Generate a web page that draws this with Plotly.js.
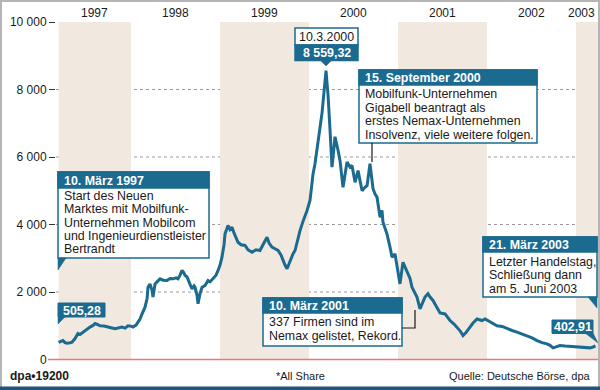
<!DOCTYPE html>
<html><head><meta charset="utf-8">
<script src="https://cdn.plot.ly/plotly-3.0.1.min.js"></script>
<style>html,body{margin:0;padding:0;background:#fff}</style>
</head><body><div id="chart" style="width:600px;height:390px"></div>
<script>
// ---- data (decimal years, index points) ----
const dates = [
1997.186,1997.213,1997.236,1997.258,1997.281,1997.315,1997.337,1997.371,1997.404,1997.427,1997.461,1997.494,1997.539,1997.573,1997.596,1997.629,1997.652,1997.697,1997.730,1997.775,1997.820,1997.854,1997.899,1997.933,1997.966,
1998.000,1998.022,1998.056,1998.079,1998.101,1998.124,1998.157,1998.180,1998.191,1998.213,1998.236,1998.247,1998.270,1998.292,1998.326,1998.360,1998.404,1998.438,1998.472,1998.506,1998.528,1998.551,1998.573,1998.596,1998.607,1998.629,1998.640,1998.663,1998.685,1998.708,1998.719,1998.742,1998.753,1998.775,1998.798,1998.831,1998.865,1998.888,1998.921,1998.955,1998.978,
1999.000,1999.022,1999.045,1999.056,1999.079,1999.090,1999.112,1999.135,1999.157,1999.169,1999.191,1999.202,1999.236,1999.281,1999.315,1999.360,1999.404,1999.449,1999.483,1999.528,1999.551,1999.584,1999.618,1999.652,1999.685,1999.708,1999.730,1999.753,1999.787,1999.820,1999.843,1999.876,1999.899,1999.933,1999.978,
2000.011,2000.045,2000.067,2000.090,2000.112,2000.124,2000.146,2000.157,2000.180,2000.191,2000.202,2000.213,2000.236,2000.258,2000.270,2000.292,2000.326,2000.348,2000.382,2000.404,2000.427,2000.461,2000.483,2000.517,2000.551,2000.573,2000.596,2000.629,2000.652,2000.685,2000.719,2000.742,2000.764,2000.798,2000.820,2000.831,2000.854,2000.876,2000.910,2000.933,2000.966,
2001.000,2001.022,2001.056,2001.079,2001.112,2001.135,2001.157,2001.191,2001.213,2001.247,2001.281,2001.303,2001.337,2001.360,2001.393,2001.427,2001.472,2001.528,2001.584,2001.629,2001.663,2001.697,2001.730,2001.764,2001.809,2001.843,2001.888,2001.921,2001.944,2001.978,
2002.011,2002.056,2002.112,2002.169,2002.225,2002.281,2002.337,2002.393,2002.449,2002.506,2002.562,2002.618,2002.674,2002.708,2002.742,2002.775,2002.820,2002.876,2002.933,2002.989,
2003.045,2003.101,2003.157,2003.191,2003.219];
const values = [
505,540,560,500,485,495,510,620,770,740,810,860,960,1010,1065,1030,1000,990,960,940,910,940,960,930,1000,
990,960,1020,1100,1200,1350,1550,1800,2140,2240,2050,1850,2240,2300,2390,2350,2340,2400,2390,2420,2390,2500,2640,2560,2490,2450,2390,2250,2090,2180,2140,1900,1650,1950,2140,2190,2340,2300,2390,2500,2640,
2800,3030,3400,3720,3900,3970,3850,3920,3750,3670,3500,3475,3400,3380,3250,3180,3250,3230,3400,3620,3450,3330,3280,3230,3100,2930,2800,2690,2930,3130,3230,3620,3820,4100,4415,
4710,5500,5800,6190,6600,6880,7300,7670,8200,8559,8200,7870,6800,5700,6000,6600,6200,5900,5100,5500,5850,5700,5750,5250,5600,5300,5000,5100,5150,5800,5060,4900,4810,4215,4415,4070,3900,3720,3330,3030,3130,
2640,2240,2880,2750,2540,2400,2140,1950,1850,1500,1750,1850,1950,1850,1750,1600,1380,1350,1155,1050,960,850,710,800,960,1080,1200,1180,1155,1200,
1150,1100,1000,980,910,860,810,760,710,640,560,500,465,420,345,380,415,400,385,380,
365,360,345,370,403];
const yearLabels = [1997,1998,1999,2000,2001,2002,2003];
const shadedYears = [1997,1999,2001,2003];
const tickValues = [0,2000,4000,6000,8000,10000];
const tickLabels = ['0','2 000','4 000','6 000','8 000','10 000'];

// ---- styling ----
const W=600,H=390;
const FONT='Liberation Sans, Arial, Helvetica, sans-serif';
const TEAL='#1b6a90', BEIGE='#f1e9df', DARK='#1a1a1a';
const X_MIN=1997.157, X_MAX=2003.247;
const Y_TOP_PX=22, Y_ZERO_PX=359.5;
const shapes=[], annotations=[];
const px=x=>x/W, py=y=>1-y/H;

// year bands
shadedYears.forEach(yr=>{
  shapes.push({type:'rect',xref:'x',yref:'y',x0:Math.max(yr,dates[0]),x1:Math.min(yr+1,X_MAX),y0:0,y1:10000,
    fillcolor:BEIGE,line:{width:0},layer:'below'});
});
// dotted gridlines
tickValues.filter(v=>v>0&&v<10000).forEach(v=>{
  shapes.push({type:'line',xref:'paper',yref:'y',x0:px(56),x1:px(598),y0:v,y1:v,
    line:{color:'#9a9a9a',width:1,dash:'dot'},layer:'below'});
});
// zero line (paper ref so it is not clipped at the plot edge)
shapes.push({type:'line',xref:'paper',yref:'paper',x0:px(48),x1:px(598),y0:py(Y_ZERO_PX),y1:py(Y_ZERO_PX),
  line:{color:'#ef7483',width:1.6},layer:'above'});

// year labels (centred on visible part of each year)
yearLabels.forEach((yr,i)=>{
  const a=Math.max(yr,dates[0]);
  const b=(i===yearLabels.length-1)?Math.min(yr+1,dates[dates.length-1])-0.09:Math.min(yr+1,dates[dates.length-1]);
  annotations.push({xref:'x',yref:'paper',x:(a+b)/2,y:py(13),text:String(yr),showarrow:false,
    xanchor:'center',yanchor:'middle',font:{family:FONT,size:12,color:DARK}});
});

function rect(x0,y0,x1,y1,fill,lc,lw){
  shapes.push({type:'rect',xref:'paper',yref:'paper',x0:px(x0),x1:px(x1),y0:py(y1),y1:py(y0),
    fillcolor:fill,line:{color:lc||fill,width:lw||0},layer:'above'});
}
function tri(pts,fill){
  const d=pts.map((p,i)=>(i?'L':'M')+px(p[0])+','+py(p[1])).join(' ')+' Z';
  shapes.push({type:'path',xref:'paper',yref:'paper',path:d,fillcolor:fill,line:{color:fill,width:0.5},layer:'above'});
}
function seg(pts,color){
  const d=pts.map((p,i)=>(i?'L':'M')+px(p[0])+','+py(p[1])).join(' ');
  shapes.push({type:'path',xref:'paper',yref:'paper',path:d,line:{color:color,width:1.2},layer:'above'});
}
function txt(x,y,t,o){
  o=o||{};
  annotations.push({xref:'paper',yref:'paper',x:px(x),y:py(y),text:t,showarrow:false,
    xanchor:o.anchor||'left',yanchor:'middle',
    font:{family:o.family||FONT,size:o.size||12.4,color:o.color||DARK}});
}
function box(x0,y0,x1,yh,y1,header,lines,lineYs,tx){
  rect(x0,y0,x1,y1,'#ffffff',TEAL,1.5);
  rect(x0,y0,x1,yh,TEAL,TEAL,1.5);
  txt(tx,(y0+yh)/2+0.5,'<b>'+header+'</b>',{color:'#fff'});
  lines.forEach((l,i)=>txt(tx,lineYs[i],l));
}

// Box: 10. März 1997
box(58,172,209,188,258,'10. März 1997',
  ['Start des Neuen','Marktes mit Mobilfunk-','Unternehmen Mobilcom','und Ingenieurdienstleister','Bertrandt'],
  [195.5,209,222.5,236,249.5],62);
tri([[58,258],[66,258],[58,270]],TEAL);
// 505,28
rect(58,303,105,317,TEAL,TEAL,1);
tri([[58,317],[65,317],[58,324]],TEAL);
txt(81.5,310.5,'<b>505,28</b>',{anchor:'center',color:'#fff'});

// Peak label
rect(295,28,358,45,'#ffffff',TEAL,1.5);
rect(295,45,358,60.5,TEAL,TEAL,1.5);
tri([[320,60],[332,60],[326,66]],TEAL);
txt(326.5,37,'10.3.2000',{anchor:'center'});
txt(326.5,53,'<b>8 559,32</b>',{anchor:'center',color:'#fff'});

// 15. September 2000
box(359,70,537,85,143,'15. September 2000',
  ['Mobilfunk-Unternehmen','Gigabell beantragt als','erstes Nemax-Unternehmen','Insolvenz, viele weitere folgen.'],
  [93.5,107.5,121,135],363);
seg([[372,143],[372,162]],DARK);

// 10. März 2001
box(263,298,402,313,346,'10. März 2001',
  ['337 Firmen sind im','Nemax gelistet, Rekord.'],
  [322,336],266.5);
seg([[402,328],[415,328],[415,310]],DARK);

// 21. März 2003
box(483,237,597,252,297,'21. März 2003',
  ['Letzter Handelstag,','Schließung dann','am 5. Juni 2003'],
  [261.5,275,288.5],486.5);
tri([[588,297],[597,297],[597,308]],TEAL);
// 402,91
rect(552,320,593,333.5,TEAL,TEAL,1);
tri([[585,333],[593,333],[598,343]],TEAL);
txt(572.5,327,'<b>402,91</b>',{anchor:'center',color:'#fff'});

// footer
txt(8,376,'<b>dpa•19200</b>',{size:12});
txt(300,376,'*All Share',{anchor:'center',size:11});
txt(593,376,'Quelle: Deutsche Börse, dpa',{anchor:'right',size:11});
// frame and bottom bar
shapes.push({type:'rect',xref:'paper',yref:'paper',x0:px(1),x1:px(599),y0:py(389),y1:py(1),
  line:{color:'#b5b5b5',width:2},fillcolor:'rgba(0,0,0,0)',layer:'above'});
rect(0,386.5,600,390,'#1f5480','#1f5480',0);

const trace={x:dates,y:values,type:'scatter',mode:'lines',line:{color:TEAL,width:3},hoverinfo:'skip'};

const layout={
  width:W,height:H,margin:{l:0,r:0,t:0,b:0},
  paper_bgcolor:'#ffffff',plot_bgcolor:'rgba(0,0,0,0)',showlegend:false,
  xaxis:{domain:[px(56),px(598)],range:[X_MIN,X_MAX],showgrid:false,zeroline:false,
    showticklabels:false,ticks:'',showline:false,fixedrange:true},
  yaxis:{domain:[py(Y_ZERO_PX),py(Y_TOP_PX)],range:[0,10000],tickvals:tickValues,ticktext:tickLabels,
    ticks:'outside',ticklen:6,tickcolor:'#333',tickwidth:1,showgrid:false,zeroline:false,showline:false,
    tickfont:{family:FONT,size:12,color:DARK},fixedrange:true},
  shapes:shapes,annotations:annotations
};
Plotly.newPlot('chart',[trace],layout,{displayModeBar:false,staticPlot:true});
</script></body></html>
